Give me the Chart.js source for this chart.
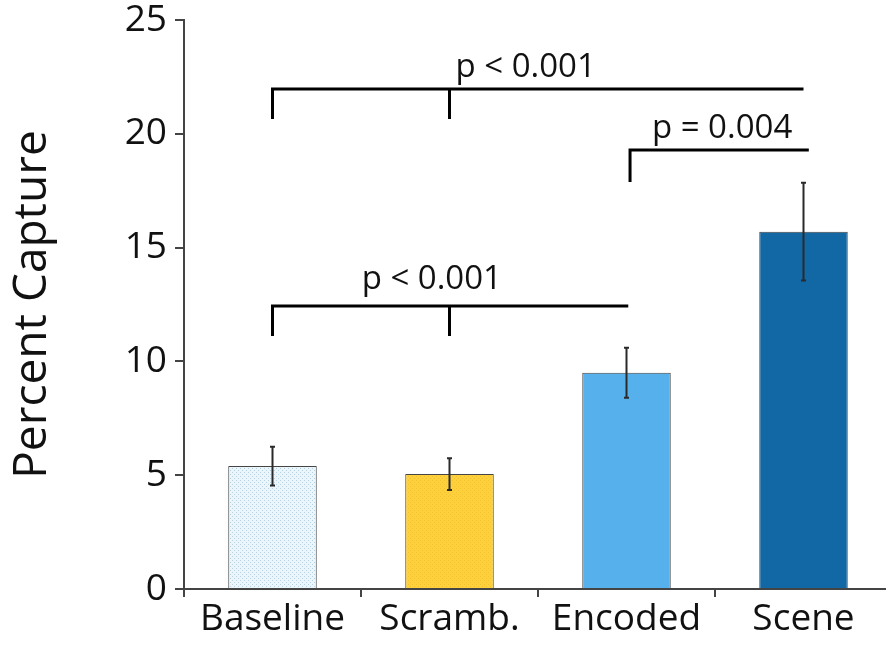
<!DOCTYPE html>
<html>
<head>
<meta charset="utf-8">
<script src="https://cdn.jsdelivr.net/npm/chart.js@4.4.1/dist/chart.umd.min.js"></script>
<style>
html,body{margin:0;padding:0;background:#fff;overflow:hidden;}
#wrap{width:900px;height:646px;}
</style>
</head>
<body>
<div id="wrap"><canvas id="c" width="900" height="646"></canvas></div>
<script>
// ---- data ----
const categories = ['Baseline', 'Scramb.', 'Encoded', 'Scene'];
const means = [5.4, 5.05, 9.5, 15.7];
const errors = [0.85, 0.7, 1.1, 2.15];
const yTickValues = [0, 5, 10, 15, 20, 25];

// significance brackets (x in category units, y in data units)
const bracketFrom = [0, 2.02, 0];
const bracketTo = [3, 3.03, 2.01];
const bracketLevel = [21.97, 19.29, 12.43];
const bracketDropTo = [20.65, 17.88, 11.12];
const bracketDropsAt = [[0, 1], [2.02], [0, 1]];
const bracketLabels = ['p < 0.001', 'p = 0.004', 'p < 0.001'];
const bracketLabelX = [1.43, 2.54, 0.9];
const bracketLabelY = [22.93, 20.25, 13.58];

// ---- styling ----
const FONT = "'Open Sans', 'DejaVu Sans', sans-serif";
function dotPattern(bg, dot) {
  const c = document.createElement('canvas');
  c.width = 4; c.height = 4;
  const g = c.getContext('2d');
  g.fillStyle = bg; g.fillRect(0, 0, 4, 4);
  g.fillStyle = dot; g.fillRect(0, 0, 1, 1); g.fillRect(2, 2, 1, 1);
  return g.createPattern(c, 'repeat');
}
const ctx = document.getElementById('c').getContext('2d');
const barColors = [
  dotPattern('#eaf5fc', '#b9d2e2'),
  dotPattern('#fdd03c', '#f2c230'),
  '#55b0ec',
  '#1267a5'
];

const annotate = {
  id: 'annotate',
  afterDatasetsDraw(chart) {
    const xs = chart.scales.x, ys = chart.scales.y, c = chart.ctx;
    const step = xs.getPixelForValue(1) - xs.getPixelForValue(0);
    const catX = v => xs.getPixelForValue(0) + v * step;
    const meta = chart.getDatasetMeta(0);
    c.save();
    // error bars
    c.strokeStyle = '#2a2a2a';
    c.lineWidth = 2;
    meta.data.forEach((bar, i) => {
      const px = bar.x;
      const t = ys.getPixelForValue(means[i] + errors[i]);
      const b = ys.getPixelForValue(means[i] - errors[i]);
      c.beginPath();
      c.moveTo(px, t); c.lineTo(px, b);
      c.moveTo(px - 2.5, t); c.lineTo(px + 2.5, t);
      c.moveTo(px - 2.5, b); c.lineTo(px + 2.5, b);
      c.stroke();
    });
    // brackets
    c.strokeStyle = '#000';
    c.lineWidth = 3;
    c.lineCap = 'butt';
    for (let k = 0; k < bracketLabels.length; k++) {
      const yl = ys.getPixelForValue(bracketLevel[k]);
      const yd = ys.getPixelForValue(bracketDropTo[k]);
      c.beginPath();
      c.moveTo(catX(bracketFrom[k]), yl);
      c.lineTo(catX(bracketTo[k]), yl);
      bracketDropsAt[k].forEach(d => {
        c.moveTo(catX(d), yl - 1.5);
        c.lineTo(catX(d), yd);
      });
      c.stroke();
      c.fillStyle = '#111';
      c.font = '33px ' + FONT;
      c.textAlign = 'center';
      c.textBaseline = 'middle';
      c.fillText(bracketLabels[k], catX(bracketLabelX[k]), ys.getPixelForValue(bracketLabelY[k]));
    }
    c.restore();
  }
};

new Chart(ctx, {
  type: 'bar',
  data: {
    labels: categories,
    datasets: [{
      data: means,
      backgroundColor: barColors,
      borderColor: '#444',
      borderWidth: 1,
      barPercentage: 0.5,
      categoryPercentage: 1.0
    }]
  },
  options: {
    responsive: false,
    animation: false,
    layout: { padding: { left: 0, right: 8, top: 20, bottom: 0 } },
    plugins: { legend: { display: false }, tooltip: { enabled: false } },
    scales: {
      x: {
        offset: true,
        grid: { offset: true, drawOnChartArea: false, drawTicks: true, tickLength: 8, color: '#444', lineWidth: 2 },
        border: { display: true, color: '#444', width: 2 },
        ticks: { color: '#111', font: { family: FONT, size: 37 }, padding: 0, maxRotation: 0 },
        afterFit(s) { s.height = 57; }
      },
      y: {
        min: 0, max: 25,
        afterBuildTicks(s) { s.ticks = yTickValues.map(v => ({ value: v })); },
        grid: { drawOnChartArea: false, drawTicks: true, tickLength: 9, color: '#444', lineWidth: 2 },
        border: { display: true, color: '#444', width: 2 },
        ticks: { color: '#111', font: { family: FONT, size: 37 }, padding: 8 },
        title: { display: true, text: 'Percent Capture', color: '#111', font: { family: FONT, size: 46 }, padding: { top: 5, bottom: 0 } },
        afterFit(s) { s.width = 184; s.paddingTop = 0; s.paddingBottom = 0; }
      }
    }
  },
  plugins: [annotate]
});
</script>
</body>
</html>
